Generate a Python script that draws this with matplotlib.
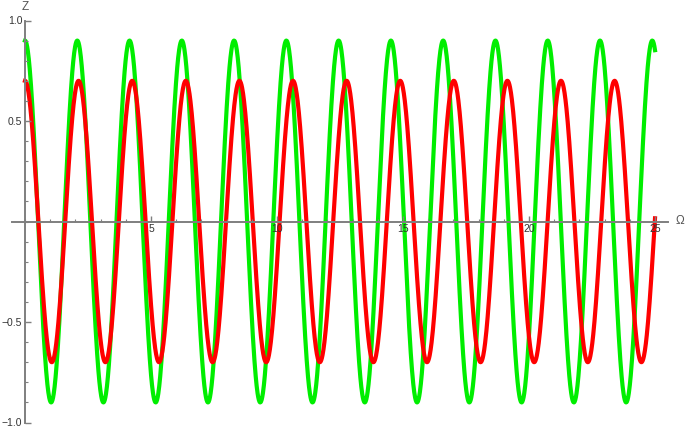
import numpy as np
import matplotlib.pyplot as plt
from matplotlib.ticker import MultipleLocator, FixedLocator

plt.rcParams['font.family'] = ['Liberation Sans', 'DejaVu Sans']

# parametros (cosenos)
omega_range = (0.0, 25.0)
green_amp = 0.9
green_freq = 3.029      # rad por unidad de Omega
red_amp = 0.7
red_freq = 2.954

x_major = [5, 10, 15, 20, 25]
y_major = [-1.0, -0.5, 0.5, 1.0]
y_labels = ["\u22121.0", "\u22120.5", "0.5", "1.0"]

w = np.linspace(omega_range[0], omega_range[1], 2000)
z_green = green_amp * np.cos(green_freq * w)
z_red = red_amp * np.cos(red_freq * w)

fig = plt.figure(figsize=(6.85, 4.30), dpi=100)
ax = fig.add_axes([12 / 685, 7.5 / 430, 656 / 685, 402 / 430])

ax.plot(w, z_green, color="#00ee00", lw=3.0, zorder=3, clip_on=False)
ax.plot(w, z_red, color="#ff0000", lw=3.0, zorder=4, clip_on=False)

ax.set_xlim(-13 * 25 / 630, 25 + 13 * 25 / 630)
ax.set_ylim(-1.0, 1.0)

axis_col = "#7f7f7f"
for s in ["top", "right"]:
    ax.spines[s].set_visible(False)
ax.spines["left"].set_position(("data", 0))
ax.spines["bottom"].set_position(("data", 0))
ax.spines["left"].set_bounds(-1.0, 1.0)
for s in ["left", "bottom"]:
    ax.spines[s].set_color(axis_col)
    ax.spines[s].set_linewidth(1.4)
    ax.spines[s].set_zorder(5)
ax.xaxis.set_zorder(6)
ax.yaxis.set_zorder(6)

ax.xaxis.set_major_locator(FixedLocator(x_major))
ax.xaxis.set_minor_locator(MultipleLocator(1))
ax.yaxis.set_major_locator(FixedLocator(y_major))
ax.yaxis.set_minor_locator(MultipleLocator(0.1))
ax.set_yticklabels(y_labels)

ax.tick_params(which="major", direction="in", length=4.5, width=1.0,
               color=axis_col, labelsize=7.5, labelcolor="#333333", pad=2)
ax.tick_params(which="minor", direction="in", length=2.5, width=0.8,
               color=axis_col)

fig.text(25 / 685, 1 - 7 / 430, "Z", ha="center", va="center",
         fontsize=8.5, color="#555555")
fig.text(680 / 685, 1 - 221 / 430, "\u03a9", ha="center", va="center",
         fontsize=8.5, color="#555555")

fig.savefig("out.png", dpi=100)
